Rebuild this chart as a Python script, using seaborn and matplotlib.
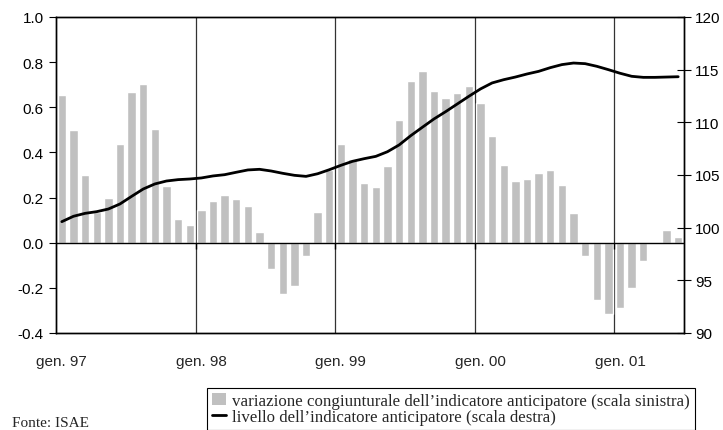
import matplotlib
matplotlib.use("Agg")
import matplotlib.pyplot as plt
import seaborn as sns
import pandas as pd
from matplotlib.patches import Patch
from matplotlib.lines import Line2D

# monthly data, gen. 97 - giu. 01
variazione = [
    0.653, 0.501, 0.298, 0.135, 0.198, 0.436, 0.668, 0.702, 0.504, 0.251, 0.106, 0.080,
    0.146, 0.183, 0.211, 0.192, 0.164, 0.049, -0.115, -0.229, -0.192, -0.058, 0.136, 0.320,
    0.439, 0.371, 0.266, 0.246, 0.340, 0.545, 0.716, 0.759, 0.672, 0.640, 0.663, 0.694,
    0.617, 0.473, 0.344, 0.275, 0.282, 0.307, 0.323, 0.254, 0.133, -0.061, -0.254, -0.315,
    -0.288, -0.202, -0.080, 0.0, 0.055, 0.027,
]
livello = [
    100.57, 101.08, 101.36, 101.52, 101.77, 102.25, 102.97, 103.67, 104.15, 104.43, 104.56, 104.62,
    104.72, 104.91, 105.03, 105.26, 105.48, 105.54, 105.38, 105.16, 104.97, 104.87, 105.12, 105.50,
    105.92, 106.30, 106.55, 106.77, 107.21, 107.85, 108.73, 109.53, 110.32, 111.01, 111.74, 112.47,
    113.17, 113.74, 114.05, 114.30, 114.59, 114.84, 115.19, 115.48, 115.63, 115.57, 115.32, 115.00,
    114.66, 114.37, 114.27, 114.27, 114.30, 114.33,
]
year_labels = ["gen. 97", "gen. 98", "gen. 99", "gen. 00", "gen. 01"]
label_bar = "variazione congiunturale dell\u2019indicatore anticipatore (scala sinistra)"
label_line = "livello dell\u2019indicatore anticipatore (scala destra)"

df = pd.DataFrame({"mese": range(len(variazione)), "variazione": variazione, "livello": livello})

sns.set_theme(style="white")
plt.rcParams["font.family"] = ["Liberation Sans", "DejaVu Sans"]
plt.rcParams["axes.unicode_minus"] = False

fig = plt.figure(figsize=(7.23, 4.31), dpi=100)
ax = fig.add_axes([56 / 723, 1 - 334 / 431, 628 / 723, 316 / 431])

sns.barplot(data=df, x="mese", y="variazione", color="#c0c0c0", saturation=1,
            width=0.72, ax=ax)
ax.set_xlim(-0.5, len(variazione) - 0.5)
ax.set_ylim(-0.4, 1.0)
ax.set_yticks([-0.4, -0.2, 0.0, 0.2, 0.4, 0.6, 0.8, 1.0])
ax.set_yticklabels([f"{v:.1f}" for v in ax.get_yticks()])
ax.set_xticks(range(0, len(variazione), 12))
ax.set_xticklabels(year_labels)
ax.set_xlabel("")
ax.set_ylabel("")
ax.tick_params(axis="x", length=0, pad=15, labelsize=11)
ax.tick_params(axis="y", direction="out", length=5, width=0.8, pad=4, labelsize=11,
               left=True, colors="black")

# year separators and zero axis
bounds = [b - 0.5 for b in range(12, len(variazione), 12)]
for b in bounds:
    ax.axvline(b, color="#333333", lw=0.9, zorder=0.5)
ax.axhline(0, color="black", lw=1.0)
ax.vlines(bounds, -0.028, 0, color="black", lw=1.0)

for s in ax.spines.values():
    s.set_color("black")
    s.set_linewidth(1.0)

ax2 = ax.twinx()
sns.lineplot(data=df, x="mese", y="livello", color="black", lw=2, ax=ax2)
ax2.set_ylim(90, 120)
ax2.set_yticks(range(90, 121, 5))
ax2.set_ylabel("")
ax2.set_xlabel("")
ax2.tick_params(axis="y", direction="inout", length=10, width=0.8, pad=3, labelsize=11,
                right=True, colors="black")
ax2.set_xlim(-0.5, len(variazione) - 0.5)
for s in ax2.spines.values():
    s.set_color("black")
    s.set_linewidth(1.0)

handles = [Patch(facecolor="#c0c0c0", edgecolor="none"),
           Line2D([], [], color="black", lw=2)]
leg = fig.legend(handles, [label_bar, label_line], loc="upper left",
                 bbox_to_anchor=(207 / 723, 1 - 389 / 431), frameon=True, fancybox=False,
                 edgecolor="black", framealpha=1, borderpad=0.3, handlelength=0.8,
                 handleheight=0.7, handletextpad=0.4, labelspacing=0.0, borderaxespad=0,
                 prop={"family": "Liberation Serif", "size": 12.2})
leg.get_frame().set_linewidth(0.8)

fig.text(12 / 723, 1 - 430 / 431, "Fonte: ISAE", family="Liberation Serif", size=11,
         va="bottom", ha="left")

fig.savefig("out.png", dpi=100)
